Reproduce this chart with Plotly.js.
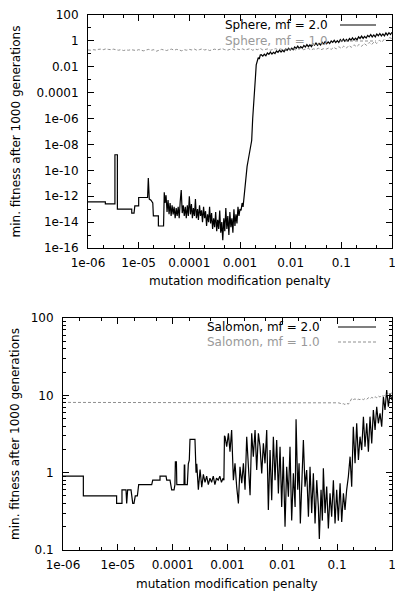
<!DOCTYPE html>
<html><head><meta charset="utf-8">
<script src="https://cdn.plot.ly/plotly-3.0.1.min.js"></script>
<style>html,body{margin:0;padding:0;background:#fff}#chart{width:395px;height:592px}</style>
</head><body><div id="chart"></div>
<script>
// ---- tick labels ----
const xTickVals = [1e-6, 1e-5, 1e-4, 1e-3, 1e-2, 1e-1, 1];
const xTickText = ['1e-06', '1e-05', '0.0001', '0.001', '0.01', '0.1', '1'];
const sphereYTickVals = [100, 1, 0.01, 1e-4, 1e-6, 1e-8, 1e-10, 1e-12, 1e-14, 1e-16];
const sphereYTickText = ['100', '1', '0.01', '0.0001', '1e-06', '1e-08', '1e-10', '1e-12', '1e-14', '1e-16'];
const salomonYTickVals = [100, 10, 1, 0.1];
const salomonYTickText = ['100', '10', '1', '0.1'];

// ---- series names ----
const sphereNames = ['Sphere, mf = 2.0', 'Sphere, mf = 1.0'];
const salomonNames = ['Salomon, mf = 2.0', 'Salomon, mf = 1.0'];
const axisTitleX = 'mutation modification penalty';
const axisTitleY = 'min. fitness after 1000 generations';

// ---- Sphere, mf = 2.0 ----
const sphereMf2X = [
 1e-6, 2.2e-6, 2.2e-6, 3.4e-6, 3.4e-6, 3.8e-6, 3.8e-6, 7.3e-6, 7.3e-6, 8.1e-6, 8.4e-6, 1.0e-5, 1.0e-5, 1.5e-5,
 1.55e-5, 1.62e-5, 1.75e-5, 1.9e-5, 1.95e-5, 2.45e-5, 2.45e-5, 3.1e-5, 3.2e-5,
 3.31e-5, 3.47e-5, 3.63e-5, 3.80e-5, 3.98e-5, 4.17e-5, 4.37e-5, 4.57e-5, 4.79e-5, 5.01e-5,
 5.25e-5, 5.50e-5, 5.75e-5, 6.03e-5, 6.31e-5, 6.61e-5, 6.92e-5, 7.24e-5, 7.59e-5, 7.94e-5,
 8.32e-5, 8.71e-5, 9.12e-5, 9.55e-5, 1.0e-4, 1.05e-4, 1.10e-4, 1.15e-4, 1.20e-4, 1.26e-4,
 1.32e-4, 1.38e-4, 1.45e-4, 1.51e-4, 1.59e-4, 1.66e-4, 1.74e-4, 1.82e-4, 1.91e-4, 2.0e-4,
 2.09e-4, 2.19e-4, 2.29e-4, 2.40e-4, 2.51e-4, 2.63e-4, 2.75e-4, 2.88e-4, 3.02e-4, 3.16e-4,
 3.31e-4, 3.47e-4, 3.63e-4, 3.80e-4, 3.98e-4, 4.17e-4, 4.37e-4, 4.57e-4, 4.79e-4, 5.01e-4,
 5.25e-4, 5.50e-4, 5.75e-4, 6.03e-4, 6.31e-4, 6.61e-4, 6.92e-4, 7.24e-4, 7.59e-4, 7.94e-4,
 8.32e-4, 8.71e-4, 9.12e-4, 9.55e-4, 1.0e-3,
 1.05e-3, 1.10e-3, 1.15e-3, 1.20e-3, 1.26e-3, 1.32e-3, 1.38e-3, 1.45e-3, 1.55e-3, 1.62e-3,
 1.70e-3, 1.78e-3, 1.86e-3, 1.95e-3, 2.02e-3, 2.09e-3, 2.19e-3, 2.29e-3, 2.40e-3, 2.51e-3,
 2.63e-3, 2.82e-3, 3.02e-3, 3.24e-3, 3.47e-3, 3.72e-3, 3.98e-3, 4.27e-3, 4.57e-3, 4.90e-3,
 5.25e-3, 5.62e-3, 6.03e-3, 6.46e-3, 6.92e-3, 7.41e-3, 7.94e-3, 8.51e-3, 9.12e-3, 9.77e-3,
 1.05e-2, 1.12e-2, 1.20e-2, 1.29e-2, 1.38e-2, 1.48e-2, 1.58e-2, 1.70e-2, 1.82e-2, 1.95e-2,
 2.09e-2, 2.24e-2, 2.40e-2, 2.57e-2, 2.75e-2, 2.95e-2, 3.16e-2, 3.39e-2, 3.63e-2, 3.89e-2,
 4.17e-2, 4.47e-2, 4.79e-2, 5.13e-2, 5.50e-2, 5.89e-2, 6.31e-2, 6.76e-2, 7.24e-2, 7.76e-2,
 8.32e-2, 8.91e-2, 9.55e-2, 0.102, 0.110, 0.117, 0.126, 0.135, 0.145, 0.155,
 0.166, 0.178, 0.191, 0.204, 0.219, 0.234, 0.251, 0.269, 0.288, 0.309,
 0.331, 0.355, 0.380, 0.407, 0.437, 0.468, 0.501, 0.537, 0.575, 0.617,
 0.661, 0.708, 0.759, 0.813, 0.871, 0.933, 1.0
];
const sphereMf2Y = [
 3.7e-13, 3.7e-13, 2.6e-13, 2.6e-13, 1.6e-9, 1.6e-9, 1e-13, 1e-13, 5e-14, 5e-14, 1.8e-13, 1.8e-13, 8e-13, 8e-13,
 2.5e-11, 6e-13, 5e-13, 3e-13, 3e-14, 3e-14, 5e-15, 5e-15, 2e-12,
 3e-13, 1.2e-12, 6e-14, 5e-13, 4e-14, 3e-13, 3e-14, 2e-13, 4e-14, 1.5e-13,
 2e-14, 1.2e-13, 3e-14, 1.5e-13, 2e-14, 4e-13, 3e-12, 5e-14, 2e-13, 3e-14,
 1.5e-13, 2e-14, 2e-13, 3e-14, 1e-12, 4e-14, 2.5e-13, 2e-14, 1.2e-13, 3e-14,
 6e-13, 2e-14, 1e-13, 1.5e-14, 2e-13, 3e-14, 8e-14, 1e-14, 1.5e-13, 2e-14,
 7e-14, 5e-15, 4e-14, 1e-14, 1.5e-13, 8e-15, 5e-14, 3e-15, 2e-14, 4e-15,
 6e-14, 2e-15, 1.5e-14, 3e-15, 8e-14, 1.5e-15, 1e-14, 4e-16, 2e-14, 2e-15,
 1.2e-13, 3e-15, 3e-14, 1e-15, 6e-14, 4e-15, 2e-14, 1.5e-15, 1e-13, 5e-15,
 4e-14, 8e-15, 1.5e-13, 3e-14, 1e-13,
 8e-14, 3e-13, 1.5e-13, 1e-12, 8e-12, 4e-11, 2e-10, 6e-10, 3e-9, 1e-8,
 2e-8, 1e-6, 3e-5, 3e-4, 1.7e-3, 1.4e-2, 3.3e-2, 5e-2, 4e-2, 8e-2,
 0.085, 0.066, 0.093, 0.071, 0.117, 0.093, 0.138, 0.095, 0.132, 0.105,
 0.166, 0.132, 0.195, 0.138, 0.19, 0.145, 0.23, 0.186, 0.275, 0.195,
 0.275, 0.209, 0.34, 0.263, 0.39, 0.257, 0.355, 0.282, 0.447, 0.339,
 0.513, 0.355, 0.50, 0.363, 0.589, 0.468, 0.676, 0.457, 0.631, 0.479,
 0.776, 0.575, 0.891, 0.603, 0.832, 0.617, 0.977, 0.759, 1.10, 0.741,
 1.05, 0.759, 1.26, 0.933, 1.38, 0.933, 1.32, 0.955, 1.51, 1.12,
 1.70, 1.17, 1.62, 1.20, 2.04, 1.55, 2.34, 1.55, 2.24, 1.66,
 2.63, 2.04, 3.09, 2.04, 2.88, 2.04, 3.39, 2.51, 3.72, 2.45,
 3.47, 2.45, 4.17, 2.82, 4.27, 3.09, 4.68
];

// ---- Sphere, mf = 1.0 ----
const sphereMf1X = [
 1e-6, 1.12e-6, 1.26e-6, 1.41e-6, 1.58e-6, 1.78e-6, 2.0e-6, 2.24e-6, 2.51e-6, 2.82e-6, 3.16e-6, 3.55e-6, 3.98e-6, 4.47e-6, 5.01e-6, 5.62e-6, 6.31e-6, 7.08e-6, 7.94e-6, 8.91e-6,
 1e-5, 1.12e-5, 1.26e-5, 1.41e-5, 1.58e-5, 1.78e-5, 2.0e-5, 2.24e-5, 2.51e-5, 2.82e-5, 3.16e-5, 3.55e-5, 3.98e-5, 4.47e-5, 5.01e-5, 5.62e-5, 6.31e-5, 7.08e-5, 7.94e-5, 8.91e-5,
 1e-4, 1.12e-4, 1.26e-4, 1.41e-4, 1.58e-4, 1.78e-4, 2.0e-4, 2.24e-4, 2.51e-4, 2.82e-4, 3.16e-4, 3.55e-4, 3.98e-4, 4.47e-4, 5.01e-4, 5.62e-4, 6.31e-4, 7.08e-4, 7.94e-4, 8.91e-4,
 1e-3, 1.12e-3, 1.26e-3, 1.41e-3, 1.58e-3, 1.78e-3, 2.0e-3, 2.24e-3, 2.51e-3, 2.82e-3, 3.16e-3, 3.55e-3, 3.98e-3, 4.47e-3, 5.01e-3, 5.62e-3, 6.31e-3, 7.08e-3, 7.94e-3, 8.91e-3,
 1e-2, 1.12e-2, 1.26e-2, 1.41e-2, 1.58e-2, 1.78e-2, 2.0e-2, 2.24e-2, 2.51e-2, 2.82e-2, 3.16e-2, 3.55e-2, 3.98e-2, 4.47e-2, 5.01e-2, 5.62e-2, 6.31e-2, 7.08e-2, 7.94e-2, 8.91e-2,
 0.1, 0.112, 0.126, 0.141, 0.158, 0.178, 0.2, 0.224, 0.251, 0.282, 0.316, 0.355, 0.398, 0.447, 0.501, 0.562, 0.631, 0.708, 0.794, 0.891,
 1.0
];
const sphereMf1Y = [
 0.20, 0.19, 0.21, 0.20, 0.22, 0.23, 0.21, 0.24, 0.22, 0.21, 0.23, 0.20, 0.19, 0.21, 0.18, 0.20, 0.19, 0.21, 0.20, 0.18,
 0.21, 0.19, 0.17, 0.20, 0.22, 0.19, 0.21, 0.16, 0.19, 0.22, 0.20, 0.18, 0.21, 0.23, 0.19, 0.22, 0.20, 0.17, 0.21, 0.19,
 0.22, 0.20, 0.23, 0.19, 0.21, 0.24, 0.20, 0.22, 0.18, 0.21, 0.23, 0.20, 0.22, 0.25, 0.21, 0.19, 0.22, 0.24, 0.20, 0.23,
 0.21, 0.24, 0.20, 0.22, 0.25, 0.19, 0.23, 0.21, 0.26, 0.20, 0.22, 0.24, 0.19, 0.23, 0.25, 0.21, 0.24, 0.20, 0.23, 0.26,
 0.22, 0.25, 0.20, 0.24, 0.27, 0.21, 0.23, 0.26, 0.20, 0.24, 0.22, 0.27, 0.21, 0.25, 0.23, 0.28, 0.22, 0.32, 0.24, 0.36,
 0.26, 0.40, 0.28, 0.44, 0.32, 0.50, 0.35, 0.54, 0.38, 0.63, 0.45, 0.76, 0.52, 0.89, 0.63, 1.12, 0.79, 1.41, 1.0, 1.78,
 1.5
];

// ---- Salomon, mf = 2.0 ----
const salomonMf2X = [
 1e-6, 2.35e-6, 2.35e-6, 9.5e-6, 9.5e-6, 1.19e-5, 1.19e-5, 1.41e-5, 1.45e-5, 1.51e-5, 1.74e-5, 1.87e-5, 1.97e-5, 2.08e-5,
 2.27e-5, 2.40e-5, 4.15e-5, 4.33e-5, 5.88e-5, 5.88e-5, 7.58e-5, 7.78e-5, 8.94e-5, 9.6e-5, 1.06e-4, 1.10e-4, 1.12e-4, 1.17e-4,
 1.19e-4, 1.61e-4, 1.63e-4, 1.66e-4, 1.68e-4, 1.85e-4, 1.93e-4, 2.01e-4, 2.07e-4, 2.55e-4, 2.67e-4,
 2.75e-4, 2.94e-4, 3.16e-4, 3.39e-4, 3.63e-4, 3.89e-4, 4.17e-4, 4.47e-4, 4.79e-4, 5.13e-4, 5.50e-4, 5.89e-4, 6.31e-4,
 6.76e-4, 7.24e-4, 7.76e-4, 8.32e-4, 8.6e-4, 8.8e-4,
 9.02e-4, 9.66e-4, 1.04e-3, 1.11e-3, 1.19e-3, 1.28e-3, 1.37e-3, 1.47e-3, 1.58e-3, 1.69e-3,
 1.82e-3, 1.95e-3, 2.09e-3, 2.24e-3, 2.40e-3, 2.58e-3, 2.76e-3, 2.96e-3, 3.18e-3, 3.41e-3,
 3.66e-3, 3.92e-3, 4.21e-3, 4.51e-3, 4.83e-3, 5.19e-3, 5.56e-3, 5.97e-3, 6.40e-3, 6.86e-3,
 7.36e-3, 7.89e-3, 8.47e-3, 9.08e-3, 9.73e-3, 1.04e-2, 1.12e-2, 1.20e-2, 1.29e-2, 1.38e-2,
 1.48e-2, 1.59e-2, 1.71e-2, 1.78e-2, 1.91e-2, 2.02e-2, 2.13e-2, 2.25e-2, 2.42e-2, 2.59e-2,
 2.78e-2, 2.99e-2, 3.20e-2, 3.43e-2, 3.68e-2, 3.95e-2, 4.24e-2, 4.54e-2, 4.73e-2, 5.08e-2,
 5.37e-2, 5.60e-2, 6.01e-2, 6.44e-2, 6.91e-2, 7.41e-2, 7.94e-2, 8.53e-2, 9.14e-2, 9.80e-2,
 0.105, 0.113, 0.121, 0.130, 0.139, 0.149, 0.160, 0.172, 0.184, 0.197,
 0.212, 0.227, 0.244, 0.261, 0.280, 0.301, 0.322, 0.346, 0.371, 0.397,
 0.427, 0.457, 0.491, 0.526, 0.564, 0.605, 0.649, 0.697, 0.746, 0.800,
 0.859, 0.920, 1.0
];
const salomonMf2Y = [
 0.9, 0.9, 0.5, 0.5, 0.4, 0.4, 0.6, 0.6, 0.4, 0.6, 0.6, 0.4, 0.4, 0.5,
 0.5, 0.7, 0.7, 0.8, 0.8, 0.9, 0.9, 0.8, 0.8, 0.6, 0.6, 0.7, 1.38, 1.38,
 0.7, 0.7, 1.25, 1.25, 0.7, 0.7, 1.3, 1.45, 2.7, 2.7, 1.0,
 1.3, 0.6, 1.1, 0.65, 0.95, 0.75, 0.9, 0.7, 0.85, 0.75, 0.9, 0.7, 0.85,
 0.8, 0.9, 0.75, 0.85, 0.8, 3.0,
 2.92, 2.17, 3.22, 1.87, 3.56, 0.80, 1.32, 0.66, 0.40, 1.19,
 0.73, 1.32, 0.60, 2.92, 0.98, 0.51, 3.22, 1.61, 3.56, 1.08,
 3.22, 2.17, 0.98, 2.39, 1.32, 3.56, 0.33, 1.96, 0.44, 2.92,
 0.80, 2.64, 0.54, 2.17, 0.36, 1.61, 0.20, 1.19, 0.49, 2.17,
 0.24, 0.98, 0.36, 4.89, 0.60, 1.32, 0.22, 0.89, 2.64, 0.66,
 1.08, 0.27, 1.19, 0.30, 0.98, 0.22, 0.80, 0.36, 0.139, 0.60,
 0.24, 1.14, 0.30, 0.66, 0.19, 0.54, 0.27, 0.80, 0.22, 0.60,
 0.24, 0.73, 0.23, 0.54, 0.33, 0.60, 0.89, 1.61, 0.66, 3.93,
 1.32, 4.35, 1.46, 2.92, 1.96, 5.30, 2.17, 4.35, 1.87, 5.30,
 2.39, 6.46, 3.56, 7.13, 4.35, 5.85, 3.93, 9.60, 6.46, 11.7,
 7.13, 10.6, 8.69
];

// ---- Salomon, mf = 1.0 ----
const salomonMf1X = [
 1e-6, 0.1, 0.105, 0.113, 0.121, 0.130, 0.139, 0.149, 0.160, 0.172, 0.184, 0.197, 0.212, 0.227, 0.244, 0.261, 0.280,
 0.301, 0.322, 0.346, 0.371, 0.397, 0.427, 0.457, 0.491, 0.526, 0.564, 0.605, 0.649, 0.697, 0.746, 0.800, 0.859, 0.920, 1.0
];
const salomonMf1Y = [
 8.1, 8.1, 8.0, 7.9, 7.7, 7.8, 7.6, 7.9, 7.7, 8.3, 9.1, 8.8, 9.0, 8.7, 8.9, 8.8, 9.0,
 8.8, 9.1, 8.9, 9.3, 9.0, 9.4, 9.2, 9.6, 9.3, 9.8, 9.5, 10.0, 9.7, 10.3, 10.0, 10.6, 10.3, 10.8
];

// ---- styling ----
const FONT = 'DejaVu Sans, Liberation Sans, sans-serif';
const W = 395, H = 592;
const fx = p => p / W;
const fy = p => 1 - p / H;
const BLACK = '#000000', GRAY = '#8f8f8f', GRAYTEXT = '#999999';

function decadeMinor(d0, d1, mults) {
  const out = [];
  for (let d = d0; d < d1; d++) for (const m of mults) out.push(m * Math.pow(10, d));
  return out;
}
function oddDecades(d0, d1) {
  const out = [];
  for (let d = d0; d <= d1; d += 2) out.push(Math.pow(10, d));
  return out;
}

function axis(extra, minorVals, standoff) {
  return Object.assign({
    type: 'log', showgrid: false, zeroline: false, showline: true, linecolor: BLACK, linewidth: 1,
    mirror: 'allticks', ticks: 'inside', ticklen: 6, tickwidth: 1, tickcolor: BLACK,
    ticklabeloverflow: 'allow', ticklabelstandoff: standoff,
    tickmode: 'array', tickfont: {family: FONT, size: 12, color: BLACK},
    minor: {ticks: 'inside', ticklen: 3, tickwidth: 1, tickcolor: BLACK, tickmode: 'array', tickvals: minorVals, showgrid: false}
  }, extra);
}

const traces = [
  {x: sphereMf2X, y: sphereMf2Y, xaxis: 'x', yaxis: 'y', mode: 'lines', name: sphereNames[0], line: {color: BLACK, width: 1.2}},
  {x: sphereMf1X, y: sphereMf1Y, xaxis: 'x', yaxis: 'y', mode: 'lines', name: sphereNames[1], line: {color: GRAY, width: 1, dash: '3px,2px'}},
  {x: salomonMf2X, y: salomonMf2Y, xaxis: 'x2', yaxis: 'y2', mode: 'lines', name: salomonNames[0], line: {color: BLACK, width: 1.2}},
  {x: salomonMf1X, y: salomonMf1Y, xaxis: 'x2', yaxis: 'y2', mode: 'lines', name: salomonNames[1], line: {color: GRAY, width: 1, dash: '3px,2px'}}
];

function txt(text, x, y, opts) {
  return Object.assign({text, x: fx(x), y: fy(y), xref: 'paper', yref: 'paper', showarrow: false,
    xanchor: 'center', yanchor: 'middle', font: {family: FONT, size: 12, color: BLACK}}, opts || {});
}
function sample(x0, x1, y, color, dash, width) {
  return {type: 'line', xref: 'paper', yref: 'paper', x0: fx(x0), x1: fx(x1), y0: fy(y), y1: fy(y),
    line: {color, width: width || 1, dash: dash || 'solid'}};
}

const layout = {
  width: W, height: H, margin: {l: 0, r: 0, t: 0, b: 0}, showlegend: false,
  paper_bgcolor: '#ffffff', plot_bgcolor: '#ffffff',
  font: {family: FONT, size: 12, color: BLACK},
  xaxis: axis({domain: [fx(88), fx(392)], anchor: 'y', range: [-6, 0], tickvals: xTickVals, ticktext: xTickText}, decadeMinor(-6, 0, [2, 5]), 4),
  yaxis: axis({domain: [fy(248), fy(15)], anchor: 'x', range: [-16, 2], tickvals: sphereYTickVals, ticktext: sphereYTickText}, oddDecades(-15, 1), 6),
  xaxis2: axis({domain: [fx(63), fx(392)], anchor: 'y2', range: [-6, 0], tickvals: xTickVals, ticktext: xTickText}, decadeMinor(-6, 0, [2, 5]), 4),
  yaxis2: axis({domain: [fy(550), fy(318)], anchor: 'x2', range: [-1, 2], tickvals: salomonYTickVals, ticktext: salomonYTickText}, decadeMinor(-1, 2, [2, 3, 4, 5, 6, 7, 8, 9]), 6),
  annotations: [
    txt(axisTitleY, 15, 131.5, {textangle: -90}),
    txt(axisTitleY, 15, 434, {textangle: -90}),
    txt(axisTitleX, 240, 281),
    txt(axisTitleX, 227.5, 584),
    txt(sphereNames[0], 330, 25, {xanchor: 'right'}),
    txt(sphereNames[1], 330, 41, {xanchor: 'right', font: {family: FONT, size: 12, color: GRAYTEXT}}),
    txt(salomonNames[0], 322, 327, {xanchor: 'right'}),
    txt(salomonNames[1], 322, 342, {xanchor: 'right', font: {family: FONT, size: 12, color: GRAYTEXT}})
  ],
  shapes: [
    sample(340, 376, 25, BLACK, 'solid', 1.2),
    sample(340, 376, 41, GRAY, '3px,2px'),
    sample(338, 376, 327, BLACK, 'solid', 1.2),
    sample(338, 376, 342, GRAY, '3px,2px')
  ]
};

Plotly.newPlot('chart', traces, layout, {displayModeBar: false, staticPlot: true});
</script>
</body></html>
